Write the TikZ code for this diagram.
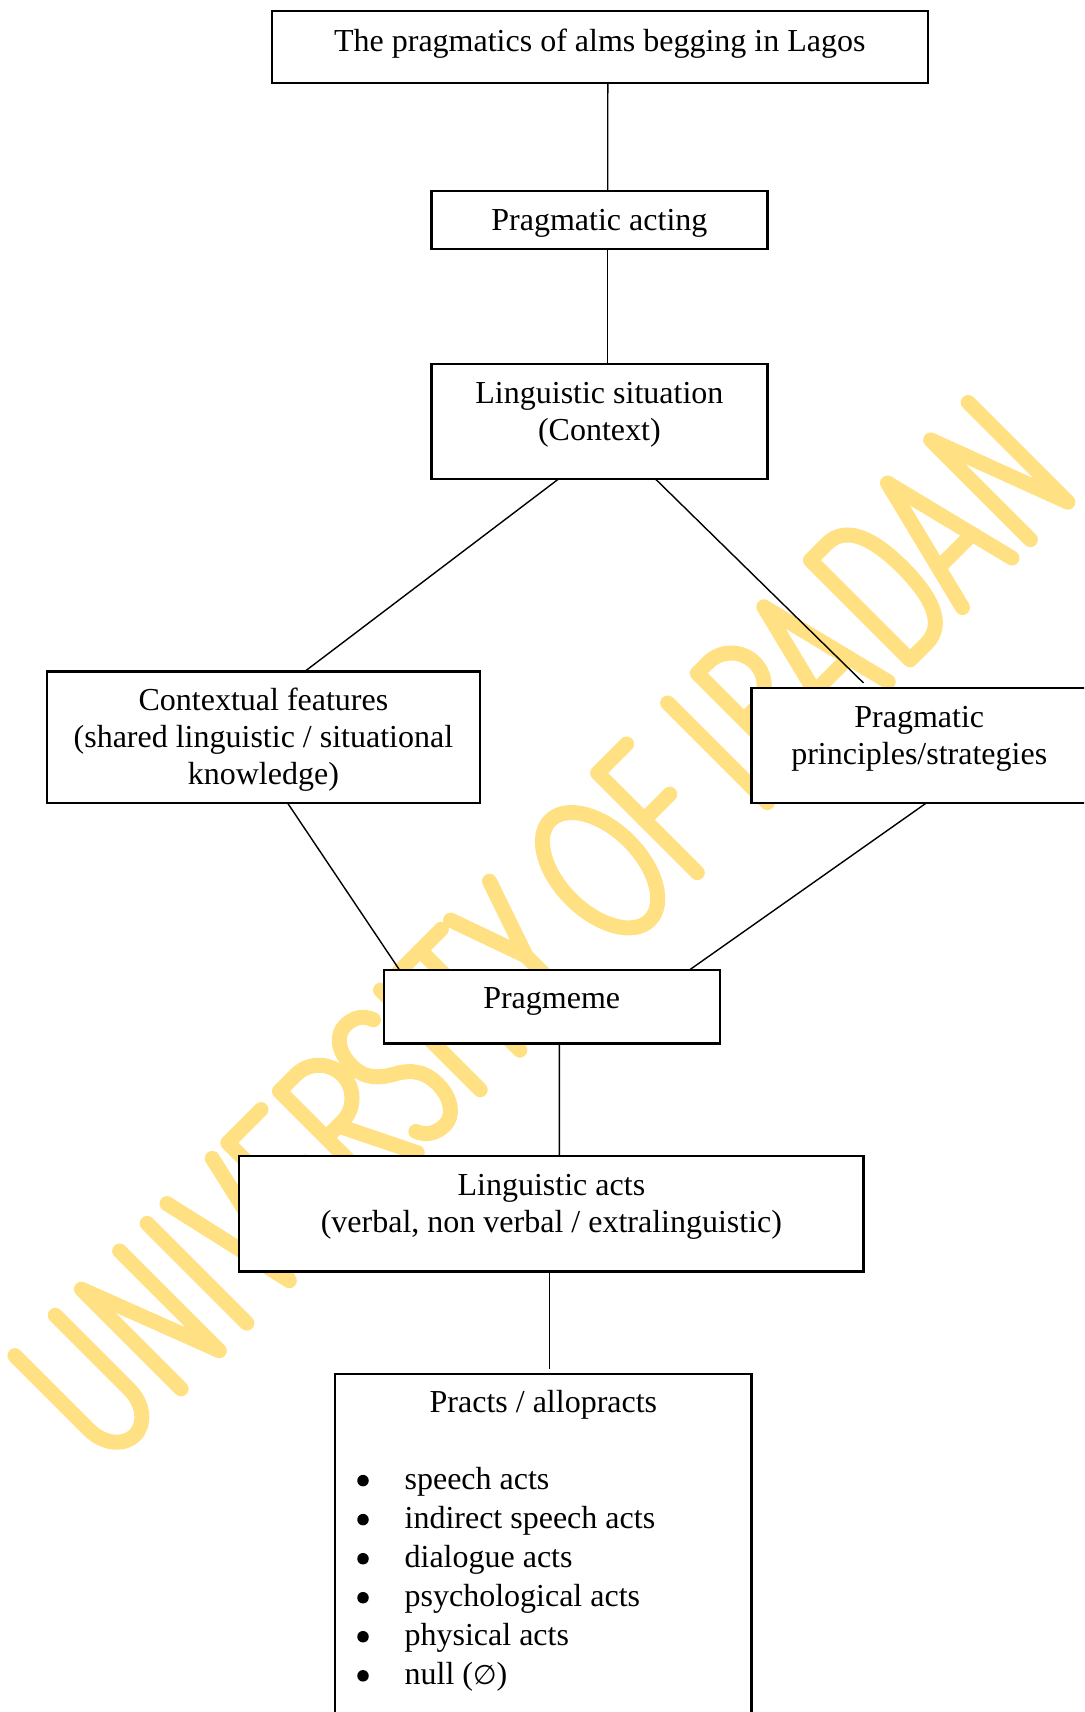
\documentclass[tikz,border=0pt]{standalone}
\usepackage{fontspec}
\setmainfont{Liberation Serif}
\newfontfamily\symbolfont{DejaVu Sans}
\usetikzlibrary{calc}
\definecolor{wmyellow}{RGB}{255,224,130}

\tikzset{
  box/.style={draw, line width=2.3pt, fill=white, inner sep=0pt, outer sep=0pt},
  conn/.style={line width=1.4pt},
  lbl/.style={anchor=base, inner sep=0pt, font=\fontsize{32}{37}\selectfont},
  item/.style={lbl, anchor=base west},
  dot/.style={circle, fill, inner sep=0pt, minimum size=11.5pt},
  wm/.style={draw=wmyellow, line width=15pt, line cap=round, line join=round},
}

\begin{document}
\begin{tikzpicture}[x=1pt,y=-1pt]
\useasboundingbox (0,0) rectangle (1084,1712);
\clip (0,0) rectangle (1084,1712);

% ---- watermark: monoline lettering along the diagonal ----
\begin{scope}[shift={(785,785)}, y=1pt, rotate=45]
  % U
  \draw[wm] (-948,141) -- (-948,36) arc[start angle=180, end angle=360, x radius=28.5, y radius=36] -- (-891,141);
  % N
  \draw[wm] (-854,0) -- (-854,141) -- (-800,0) -- (-800,141);
  % I
  \draw[wm] (-761,0) -- (-761,141);
  % V
  \draw[wm] (-733,141) -- (-701,0) -- (-669,141);
  % E
  \draw[wm] (-600,141) -- (-647,141) -- (-647,0) -- (-598,0);
  \draw[wm] (-647,73) -- (-606,73);
  % R
  \draw[wm] (-574,0) -- (-574,141) -- (-551,141) arc[start angle=90, end angle=-90, radius=33] -- (-574,75);
  \draw[wm] (-557,75) -- (-520,0);
  % S
  \draw[wm] (-457,125) .. controls (-461,136) and (-470,141) .. (-481,141)
     .. controls (-495,141) and (-505,127) .. (-505,108)
     .. controls (-505,88) and (-493,79) .. (-481,72)
     .. controls (-466,64) and (-457,53) .. (-457,34)
     .. controls (-457,14) and (-468,0) .. (-481,0)
     .. controls (-493,0) and (-502,6) .. (-506,16);
  % I
  \draw[wm] (-431,0) -- (-431,141);
  % T
  \draw[wm] (-405,141) -- (-345,141);
  \draw[wm] (-375,141) -- (-375,0);
  % Y
  \draw[wm] (-332,141) -- (-304,62) -- (-277,141);
  \draw[wm] (-304,62) -- (-304,0);
  % O
  \draw[wm] (-191,70.5) ellipse[x radius=41, y radius=70.5];
  % F
  \draw[wm] (-83,141) -- (-124,141) -- (-124,0);
  \draw[wm] (-124,75) -- (-88,75);
  % I
  \draw[wm] (-25,0) -- (-25,141);
  % B
  \draw[wm] (17,0) -- (17,141) -- (32,141) arc[start angle=90, end angle=-90, radius=33] -- (17,75);
  \draw[wm] (17,75) -- (33,75) arc[start angle=90, end angle=-90, radius=37.5] -- (17,0);
  % A
  \draw[wm] (76,0) -- (111,141) -- (146,0);
  \draw[wm] (87,45) -- (135,45);
  % D
  \draw[wm] (177,0) -- (177,141) -- (200,141) .. controls (228,141) and (237,110) .. (237,70.5)
     .. controls (237,31) and (228,0) .. (200,0) -- cycle;
  % A
  \draw[wm] (251,0) -- (286,141) -- (321,0);
  \draw[wm] (262,45) -- (310,45);
  % N
  \draw[wm] (347,0) -- (347,141) -- (400,0) -- (400,141);
\end{scope}

% ---- boxes ----
\node[box, minimum width=656pt,   minimum height=72.3pt]  (top) at (599.8,46.9)  {};
\node[box, minimum width=336pt,   minimum height=58pt]    (pa)  at (599.4,220)   {};
\node[box, minimum width=336pt,   minimum height=115.3pt] (ls)  at (599.4,421.3) {};
\node[box, minimum width=432.8pt, minimum height=131.7pt] (cf)  at (263.4,737.2) {};
\node[box, minimum width=335.5pt, minimum height=115.3pt] (pp)  at (919.2,745.3) {};
\node[box, minimum width=336pt,   minimum height=73.3pt]  (pm)  at (551.7,1006.7) {};
\node[box, minimum width=624.3pt, minimum height=115.6pt] (la)  at (551.4,1213.6) {};
\node[box, minimum width=416.2pt, minimum height=376pt]   (pr)  at (543.4,1562)  {};

% ---- connectors ----
\draw[conn] ([xshift=8pt]top.south) -- ([xshift=8.3pt]pa.north);
\draw[conn] ([xshift=8.3pt]pa.south) -- ([xshift=8.3pt]ls.north);
\draw[conn] ([xshift=-40.8pt]ls.south) -- ([xshift=41.5pt]cf.north);
\draw[conn] ([xshift=56pt]ls.south) -- ([xshift=-55.7pt,yshift=4.7pt]pp.north);
\draw[conn] ([xshift=24.2pt]cf.south) -- ([xshift=-152.1pt]pm.north);
\draw[conn] ([xshift=7.2pt]pp.south) -- ([xshift=137.6pt]pm.north);
\draw[conn] ([xshift=7.6pt]pm.south) -- ([xshift=7.9pt]la.north);
\draw[conn] ([xshift=-1.8pt]la.south) -- ([xshift=6.2pt,yshift=4.7pt]pr.north);

% ---- texts ----
\node[lbl] (toptxt) at (599.8,51.7) {The pragmatics of alms begging in Lagos};
\node[lbl] (patxt)  at (599.4,231)  {Pragmatic acting};
\node[lbl] (lsa)    at (599.4,403)  {Linguistic situation};
\node[lbl] (lsb)    at (599.4,440)  {(Context)};
\node[lbl] (cfa)    at (263.4,710.7) {Contextual features};
\node[lbl] (cfb)    at (263.4,747.3) {(shared linguistic / situational};
\node[lbl] (cfc)    at (263.4,784)   {knowledge)};
\node[lbl] (ppa)    at (919.2,727.3) {Pragmatic};
\node[lbl] (ppb)    at (919.2,764)   {principles/strategies};
\node[lbl] (pmtxt)  at (551.7,1008.3) {Pragmeme};
\node[lbl] (laa)    at (551.4,1195.6) {Linguistic acts};
\node[lbl] (lab)    at (551.4,1232.7) {(verbal, non verbal / extralinguistic)};
\node[lbl] (prtxt)  at (543.4,1412)   {Practs / allopracts};

% ---- bulleted list of practs ----
\node[dot] (d1) at (363,1480.6) {};
\node[dot] (d2) at (363,1519.6) {};
\node[dot] (d3) at (363,1558.7) {};
\node[dot] (d4) at (363,1597.7) {};
\node[dot] (d5) at (363,1636.7) {};
\node[dot] (d6) at (363,1675.8) {};
\node[item] (i1) at (404.4,1489)   {speech acts};
\node[item] (i2) at (404.4,1528)   {indirect speech acts};
\node[item] (i3) at (404.4,1567.1) {dialogue acts};
\node[item] (i4) at (404.4,1606.1) {psychological acts};
\node[item] (i5) at (404.4,1645.2) {physical acts};
\node[item] (i6) at (404.4,1684.2) {null ({\symbolfont\fontsize{27}{30}\selectfont ∅})};
\end{tikzpicture}
\end{document}
